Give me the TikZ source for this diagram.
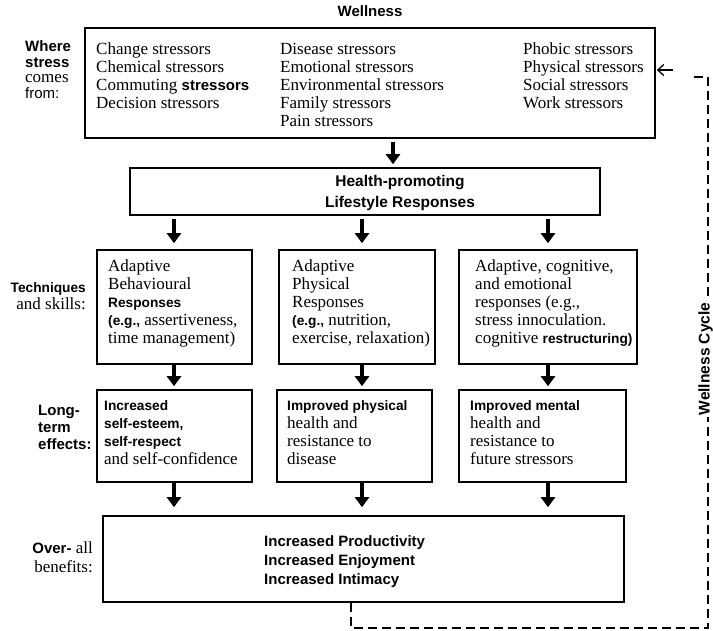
\documentclass[tikz,border=0pt]{standalone}
\usepackage{fontspec}
\setmainfont{Liberation Serif}
\setsansfont{Liberation Sans}
\usetikzlibrary{arrows.meta}

% stacked lines whose baseline is the baseline of the first line
\newcommand{\LeftStack}[1]{\vtop{\halign{##\hfil\cr#1\crcr}}}
\newcommand{\CenterStack}[1]{\vtop{\halign{\hfil##\hfil\cr#1\crcr}}}
\newcommand{\RightStack}[1]{\vtop{\halign{\hfil##\cr#1\crcr}}}
% bold sans inserts inside serif text
\newcommand{\sfb}[1]{{\fontsize{13.7}{18}\sffamily\bfseries\selectfont #1}}
\newcommand{\sfbig}[1]{{\fontsize{15}{18}\sffamily\bfseries\selectfont #1}}
\newcommand{\sfr}[1]{{\fontsize{15}{18}\sffamily\selectfont #1}}

\begin{document}
\begin{tikzpicture}[x=1pt,y=-1pt,
  box/.style={draw, line width=1.6pt, inner sep=0pt},
  txt/.style={inner sep=0pt, anchor=base west, font=\fontsize{17}{18}\selectfont},
  bigarrow/.style={line width=4.5pt, -{Triangle[width=14pt,length=10pt]}},
  cycleline/.style={line width=1.4pt, dash pattern=on 9pt off 5pt},
]
\useasboundingbox (0,0) rectangle (713,631);

% ---- boxes ----
\node[box, minimum width=570pt, minimum height=110pt] (src) at (370,83) {};
\node[box, minimum width=470pt, minimum height=47pt] (hb) at (365,191.5) {};
\node[box, minimum width=155pt, minimum height=114pt] (r1a) at (174.5,307) {};
\node[box, minimum width=156pt, minimum height=114pt] (r1b) at (357,307) {};
\node[box, minimum width=178pt, minimum height=114pt] (r1c) at (548,307) {};
\node[box, minimum width=155pt, minimum height=92pt] (r2a) at (174.5,436) {};
\node[box, minimum width=155pt, minimum height=92pt] (r2b) at (354.5,436) {};
\node[box, minimum width=167pt, minimum height=92pt] (r2c) at (542.5,436) {};
\node[box, minimum width=521pt, minimum height=86pt] (bot) at (363.5,559) {};

% ---- title ----
\node[inner sep=0pt, anchor=base, font=\sffamily\bfseries\fontsize{15}{18}\selectfont]
  (title) at (370,17) {Wellness};

% ---- sources of stress ----
\node[txt] (src1) at (96,55) {\LeftStack{Change stressors\cr Chemical stressors\cr
  Commuting \sfbig{stressors}\cr Decision stressors}};
\node[txt] (src2) at (280,55) {\LeftStack{Disease stressors\cr Emotional stressors\cr
  Environmental stressors\cr Family stressors\cr Pain stressors}};
\node[txt] (src3) at (523,55) {\LeftStack{Phobic stressors\cr Physical stressors\cr
  Social stressors\cr Work stressors}};

% ---- health-promoting responses ----
\node[inner sep=0pt, anchor=base, font=\sffamily\bfseries\fontsize{15.5}{21}\selectfont]
  (hbt) at (400,187) {\CenterStack{Health-promoting\cr Lifestyle Responses}};

% ---- techniques ----
\node[txt] (r1at) at (108,272) {\LeftStack{Adaptive\cr Behavioural\cr \sfb{Responses}\cr
  \sfb{(e.g.,} assertiveness,\cr time management)}};
\node[txt] (r1bt) at (292,272) {\LeftStack{Adaptive\cr Physical\cr Responses\cr
  \sfb{(e.g.,} nutrition,\cr exercise, relaxation)}};
\node[txt] (r1ct) at (475,272) {\LeftStack{Adaptive, cognitive,\cr and emotional\cr
  responses (e.g.,\cr stress innoculation.\cr cognitive \sfb{restructuring)}}};

% ---- long-term effects ----
\node[txt] (r2at) at (104,410) {\LeftStack{\sfb{Increased}\cr \sfb{self-esteem,}\cr
  \sfb{self-respect}\cr and self-confidence}};
\node[txt] (r2bt) at (287,410) {\LeftStack{\sfb{Improved physical}\cr health and\cr
  resistance to\cr disease}};
\node[txt] (r2ct) at (470,410) {\LeftStack{\sfb{Improved mental}\cr health and\cr
  resistance to\cr future stressors}};

% ---- benefits ----
\node[inner sep=0pt, anchor=base west, font=\sffamily\bfseries\fontsize{15}{19}\selectfont]
  (bott) at (264,546) {\LeftStack{Increased Productivity\cr Increased Enjoyment\cr
  Increased Intimacy}};

% ---- row labels ----
\node[inner sep=0pt, anchor=base west, font=\fontsize{17}{15.5}\selectfont]
  (lwhere) at (25,52) {\LeftStack{\sfbig{Where}\cr \sfbig{stress}\cr comes\cr \sfr{from:}}};
\node[inner sep=0pt, anchor=base east, font=\fontsize{17}{17}\selectfont]
  (ltech) at (86,293) {\RightStack{\sfb{Techniques}\cr and skills:}};
\node[inner sep=0pt, anchor=base west, font=\sffamily\bfseries\fontsize{15}{17.5}\selectfont]
  (llong) at (38,415) {\LeftStack{Long-\cr term\cr effects:}};
\node[inner sep=0pt, anchor=base east, font=\fontsize{17}{19}\selectfont]
  (lover) at (93,553) {\RightStack{\sfbig{Over-} all\cr benefits:}};

% ---- flow arrows ----
\coordinate (xt) at (393,0);
\coordinate (xa) at (174,0);
\coordinate (xb) at (362,0);
\coordinate (xc) at (548,0);
\draw[bigarrow, shorten <=3pt, shorten >=3pt] (src.south -| xt) -- (hb.north -| xt);
\foreach \c/\a/\b in {xa/r1a/r2a, xb/r1b/r2b, xc/r1c/r2c}{
  \draw[bigarrow, shorten <=3pt, shorten >=6pt] (hb.south -| \c) -- (\a.north -| \c);
  \draw[bigarrow, shorten >=3pt] (\a.south -| \c) -- (\b.north -| \c);
  \draw[bigarrow, shorten >=8pt] (\b.south -| \c) -- (bot.north -| \c);
}

% ---- wellness cycle feedback ----
\coordinate (d1) at (351,628);
\coordinate (d2) at (708,628);
\coordinate (d3) at (708,77);
\coordinate (d4) at (690,77);
\draw[cycleline] (bot.south -| d1) -- (d1) -- (d2) -- (d3) -- (d4);
\coordinate (a0) at (673,70);
\draw[line width=1.3pt, -{Straight Barb[length=6pt,width=11pt]}, shorten >=1pt]
  (a0) -- (a0 -| src.east);
\node[fill=white, inner sep=1.5pt, rotate=90, anchor=base,
  font=\sffamily\bfseries\fontsize{15.5}{18}\selectfont]
  (wc) at (709.5,359) {Wellness Cycle};
\end{tikzpicture}
\end{document}
